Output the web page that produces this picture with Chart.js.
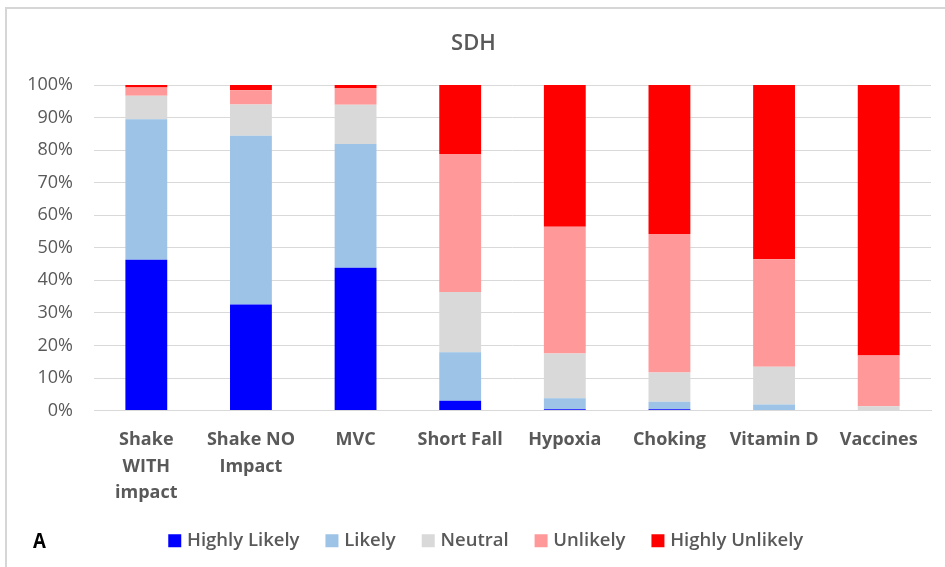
<!DOCTYPE html>
<html>
<head>
<meta charset="utf-8">
<script src="https://cdn.jsdelivr.net/npm/chart.js@4.4.1/dist/chart.umd.min.js"></script>
<style>
  html,body{margin:0;padding:0;background:#fff;}
  #wrap{position:relative;width:945px;height:567px;overflow:hidden;}
  #frame{position:absolute;left:5px;top:7px;width:1000px;height:600px;border:2px solid #d6d6d6;box-sizing:border-box;}
  #tag{position:absolute;left:33px;top:524px;font:bold 22px "Open Sans",sans-serif;color:#000;transform:scaleX(0.85);transform-origin:left;}
  canvas{position:absolute;left:0;top:0;}
</style>
</head>
<body>
<div id="wrap">
  <div id="frame"></div>
  <canvas id="c" width="945" height="567"></canvas>
  <div id="tag">A</div>
</div>
<script>
const categories = [['Shake','WITH','impact'], ['Shake NO','Impact'], 'MVC', 'Short Fall', 'Hypoxia', 'Choking', 'Vitamin D', 'Vaccines'];
const highlyLikely   = [46.3, 32.6, 43.9,  3.0,  0.4,  0.4,  0.0,  0.0];
const likely         = [43.2, 51.8, 38.0, 14.9,  3.4,  2.3,  1.9,  0.0];
const neutral        = [ 7.2,  9.6, 12.0, 18.5, 13.7,  9.0, 11.6,  1.3];
const unlikely       = [ 2.5,  4.4,  5.2, 42.4, 39.0, 42.5, 33.0, 15.6];
const highlyUnlikely = [ 0.8,  1.6,  0.9, 21.2, 43.5, 45.8, 53.5, 83.1];
const yTicks = [0,10,20,30,40,50,60,70,80,90,100];

const grey = '#595959';
const font = '"Open Sans", sans-serif';
const ds = (label, data, color) => ({ label, data, backgroundColor: color, borderWidth: 0, barPercentage: 0.4, categoryPercentage: 1, pointStyle: 'rect' });

// nudge the legend to the right, as in the original (it is not centred on the canvas)
const legendShift = {
  id: 'legendShift',
  beforeDraw(chart){
    const l = chart.legend;
    if(l && !l._shifted){ l.left += 14; l.right += 14; l._shifted = true; }
  }
};

new Chart(document.getElementById('c'), {
  type: 'bar',
  data: {
    labels: categories,
    datasets: [
      ds('Highly Likely', highlyLikely, '#0000ff'),
      ds('Likely', likely, '#9dc3e6'),
      ds('Neutral', neutral, '#d9d9d9'),
      ds('Unlikely', unlikely, '#ff9999'),
      ds('Highly Unlikely', highlyUnlikely, '#ff0000')
    ]
  },
  plugins: [legendShift],
  options: {
    responsive: false,
    animation: false,
    layout: { padding: { left: 16, right: 14, top: 0, bottom: 7 } },
    plugins: {
      title: { display: true, text: 'SDH', color: grey, font: { family: font, size: 22, weight: '600' }, padding: { top: 30.8, bottom: 27.8 } },
      legend: {
        position: 'bottom',
        labels: { color: grey, font: { family: font, size: 18.5, weight: '600' }, usePointStyle: true, boxWidth: 6, boxHeight: 13, padding: 29.5 }
      },
      tooltip: { enabled: false }
    },
    scales: {
      x: {
        stacked: true,
        afterFit: (s) => { s.height = 91.4; },
        grid: { display: false },
        border: { color: '#d9d9d9', width: 1 },
        ticks: { color: grey, font: { family: font, size: 18, weight: 'bold', lineHeight: '26.5px' }, padding: 8.5, maxRotation: 0, autoSkip: false }
      },
      y: {
        stacked: true,
        min: 0, max: 100,
        afterBuildTicks: (s) => { s.ticks = yTicks.map(v => ({ value: v })); },
        afterFit: (s) => { s.width = 78; },
        grid: { color: '#d9d9d9', drawTicks: false },
        border: { display: false },
        ticks: { color: grey, font: { family: font, size: 18 }, padding: 21, callback: v => v + '%' }
      }
    }
  }
});
</script>
</body>
</html>
